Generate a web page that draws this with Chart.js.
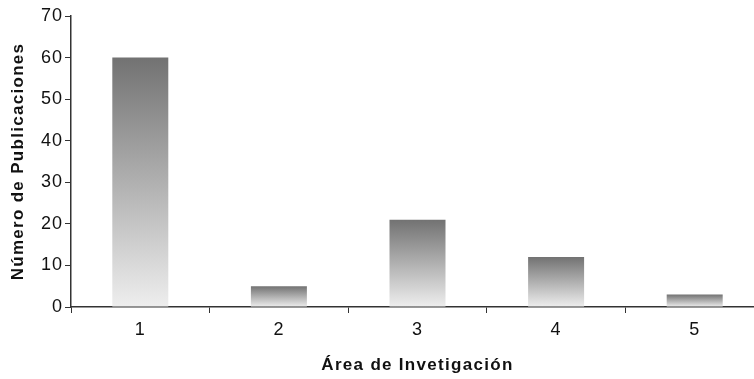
<!DOCTYPE html>
<html>
<head>
<meta charset="utf-8">
<script src="https://cdn.jsdelivr.net/npm/chart.js@4/dist/chart.umd.min.js"></script>
<style>
  html, body { margin: 0; padding: 0; background: #fff; overflow: hidden; }
  #wrap { position: relative; width: 765px; height: 379px; }
</style>
</head>
<body>
<div id="wrap"><canvas id="c"></canvas></div>
<script>
// Research areas and the number of publications in each
const categories = ['1', '2', '3', '4', '5'];
const publications = [60, 5, 21, 12, 3];
const yTicks = [0, 10, 20, 30, 40, 50, 60, 70];

const FONT = '"Liberation Sans", Arial, Helvetica, sans-serif';

// Vertical gray gradient spanning each bar from its top to the baseline
function barGradient(ctx) {
  const chart = ctx.chart;
  const y = chart.scales && chart.scales.y;
  if (!y || ctx.dataIndex === undefined || !isFinite(y.top)) return '#aaaaaa';
  const v = ctx.raw;
  const top = y.getPixelForValue(v);
  const base = y.getPixelForValue(0);
  if (!isFinite(top) || !isFinite(base) || top === base) return '#aaaaaa';
  const g = chart.ctx.createLinearGradient(0, top, 0, base);
  g.addColorStop(0, '#727272');
  g.addColorStop(1, '#eeeeee');
  return g;
}

// Axis titles and tick labels are drawn with a little extra tracking
function withSpacing(scale, method, spacing) {
  const key = '_spaced_' + method;
  if (scale[key]) return;
  scale[key] = true;
  const orig = scale[method];
  scale[method] = function () {
    const c = this.ctx;
    c.save();
    c.letterSpacing = spacing;
    orig.apply(this, arguments);
    c.restore();
  };
}
function spaceText(scale) {
  withSpacing(scale, 'drawTitle', '1.3px');
  withSpacing(scale, 'drawLabels', '1px');
}

new Chart(document.getElementById('c'), {
  type: 'bar',
  data: {
    labels: categories,
    datasets: [{
      data: publications,
      backgroundColor: barGradient,
      borderWidth: 0,
      barPercentage: 0.404,
      categoryPercentage: 1.0
    }]
  },
  options: {
    responsive: true,
    maintainAspectRatio: false,
    animation: false,
    layout: { padding: { top: 16, right: 1, bottom: 0, left: 0 } },
    plugins: { legend: { display: false }, tooltip: { enabled: false } },
    scales: {
      x: {
        grid: { display: true, drawOnChartArea: false, drawTicks: true, tickLength: 6, color: '#333', offset: true },
        border: { display: true, color: '#333', width: 1.5 },
        ticks: { color: '#111', font: { family: FONT, size: 18 }, padding: 6, maxRotation: 0 },
        title: { display: true, text: 'Área de Invetigación', color: '#111',
                 font: { family: FONT, size: 17, weight: 'bold' }, padding: { top: 0, bottom: 3 } },
        afterFit: s => { s.height = 72; spaceText(s); }
      },
      y: {
        min: 0, max: 70,
        afterBuildTicks: s => { s.ticks = yTicks.map(v => ({ value: v })); },
        grid: { display: true, drawOnChartArea: false, drawTicks: true, tickLength: 6, color: '#333' },
        border: { display: true, color: '#333', width: 1.5 },
        ticks: { color: '#111', font: { family: FONT, size: 18 }, padding: 2 },
        title: { display: true, text: 'Número de Publicaciones', color: '#111',
                 font: { family: FONT, size: 17, weight: 'bold' }, padding: { top: 8, bottom: 0 } },
        afterFit: s => { s.width = 71; spaceText(s); }
      }
    }
  }
});
</script>
</body>
</html>
